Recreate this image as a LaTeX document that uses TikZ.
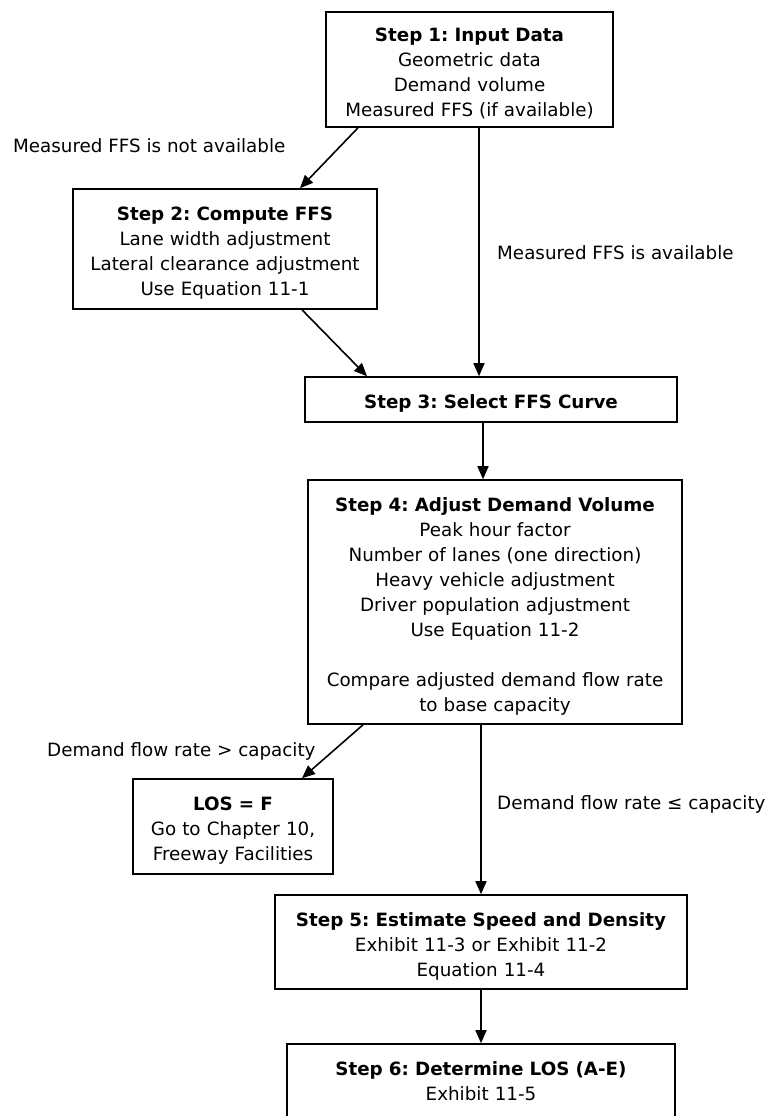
\documentclass[tikz,border=0pt]{standalone}
\usepackage{fontspec}
\setmainfont{DejaVu Sans}
\usetikzlibrary{arrows.meta}
\frenchspacing
\begin{document}
\begin{tikzpicture}[x=1pt,y=-1pt,
  every node/.style={font=\fontsize{18.3}{25}\selectfont},
  lastbox/.style={draw, line width=1.6pt, inner sep=0pt, align=center},
  stepbox/.style={lastbox, execute at begin node={\rule{0pt}{22pt}}},
  lbl/.style={anchor=west, inner sep=0pt},
  arr/.style={line width=1.6pt, -{Triangle[length=13pt,width=11pt]}}]
\useasboundingbox (0,0) rectangle (768,1116);
\clip (0,0) rectangle (768,1116);
\fill[white] (0,0) rectangle (768,1116);

\node[stepbox, text width=287pt, minimum height=115pt] (s1) at (469.5,69.5)
  {\textbf{Step 1: Input Data}\\Geometric data\\Demand volume\\Measured FFS (if available)};
\node[stepbox, text width=304pt, minimum height=120pt] (s2) at (225,249)
  {\textbf{Step 2: Compute FFS}\\Lane width adjustment\\Lateral clearance adjustment\\Use Equation 11-1};
\node[stepbox, text width=372pt, minimum height=45pt] (s3) at (491,399.5)
  {\textbf{Step 3: Select FFS Curve}};
\node[stepbox, text width=374pt, minimum height=244pt] (s4) at (495,602)
  {\textbf{Step 4: Adjust Demand Volume}\\Peak hour factor\\Number of lanes (one direction)\\Heavy vehicle adjustment\\Driver population adjustment\\Use Equation 11-2\\[25pt]Compare adjusted demand flow rate\\to base capacity};
\node[stepbox, text width=200pt, minimum height=95pt] (los) at (233,826.5)
  {\textbf{LOS = F}\\Go to Chapter 10,\\Freeway Facilities};
\node[stepbox, text width=412pt, minimum height=94pt] (s5) at (481,942)
  {\textbf{Step 5: Estimate Speed and Density}\\Exhibit 11-3 or Exhibit 11-2\\Equation 11-4};
\node[lastbox, text width=388pt, minimum height=74pt] (s6) at (481,1081)
  {\textbf{Step 6: Determine LOS (A-E)}\\Exhibit 11-5};

\node[lbl] (l1) at (13,146) {Measured FFS is not available};
\node[lbl] (l2) at (497,253) {Measured FFS is available};
\node[lbl] (l3) at (47,751) {Demand flow rate > capacity};
\node[lbl] (l4) at (497,804) {Demand flow rate ≤ capacity};

\coordinate (va) at (479,0);
\coordinate (vb) at (483,0);
\coordinate (vc) at (481,0);

\draw[arr] ([xshift=-111.5pt]s1.south) -- ([xshift=75pt]s2.north);
\draw[arr] (s1.south -| va) -- (s3.north -| va);
\draw[arr] ([xshift=77pt]s2.south) -- ([xshift=-124pt]s3.north);
\draw[arr] (s3.south -| vb) -- (s4.north -| vb);
\draw[arr] ([xshift=-132pt]s4.south) -- ([xshift=69pt]los.north);
\draw[arr] (s4.south -| vc) -- (s5.north -| vc);
\draw[arr] (s5.south -| vc) -- (s6.north -| vc);
\end{tikzpicture}
\end{document}
